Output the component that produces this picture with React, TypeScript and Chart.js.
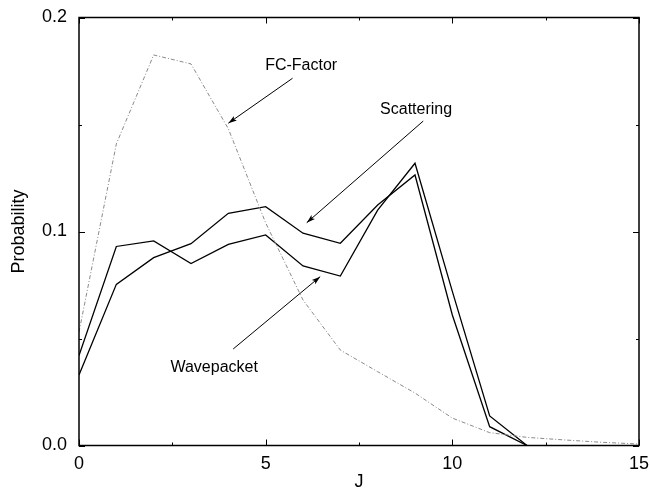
import React, { useEffect, useRef } from "react";
import { Chart, registerables } from "chart.js";

Chart.register(...registerables);

const jValues = [0, 1, 2, 3, 4, 5, 6, 7, 8, 9, 10, 11, 12, 13, 14, 15];
const wavepacket = [0.042, 0.093, 0.0956, 0.085, 0.094, 0.0984, 0.0839, 0.0792, 0.110, 0.1319, 0.072, 0.0138, 0.0];
const scattering = [0.033, 0.0753, 0.0878, 0.0943, 0.1085, 0.1116, 0.0992, 0.0945, 0.1124, 0.1264, 0.061, 0.0088, 0.0];
const fcFactor = [0.053, 0.1409, 0.1825, 0.1783, 0.148, 0.104, 0.068, 0.0446, 0.0345, 0.0245, 0.0128, 0.006, 0.0038, 0.0026, 0.0015, 0.0007];

const xMajorTicks = [0, 5, 10, 15];
const xMinorTicks = [2.5, 7.5, 12.5];
const yMajorTicks = [0, 0.1, 0.2];
const yMinorTicks = [0.05, 0.15];

// annotation labels and arrows, in data units (J, probability)
const annotations = [
  { text: "FC-Factor", at: [5.95, 0.1773], tail: [5.72, 0.1716], head: [4.0, 0.1506] },
  { text: "Scattering", at: [9.03, 0.1568], tail: [9.22, 0.1516], head: [6.1, 0.1041] },
  { text: "Wavepacket", at: [3.62, 0.0362], tail: [4.13, 0.0451], head: [6.46, 0.0789] },
];

const FONT = '"Liberation Sans", Arial, Helvetica, sans-serif';

const toPoints = (vals: number[]) => vals.map((v, i) => ({ x: jValues[i], y: v }));

const framePlugin = {
  id: "frameAndNotes",
  afterDatasetsDraw(chart: any) {
    const { ctx, chartArea, scales } = chart;
    const { left, right, top, bottom } = chartArea;
    const x = scales.x;
    const y = scales.y;
    ctx.save();
    ctx.strokeStyle = "#000";
    ctx.lineWidth = 1.5;
    ctx.strokeRect(left, top, right - left, bottom - top);
    ctx.lineWidth = 1;
    const xt = (vals: number[], len: number) => {
      for (const v of vals) {
        const px = Math.round(x.getPixelForValue(v)) + 0.5;
        ctx.beginPath();
        ctx.moveTo(px, bottom);
        ctx.lineTo(px, bottom - len);
        ctx.moveTo(px, top);
        ctx.lineTo(px, top + len);
        ctx.stroke();
      }
    };
    const yt = (vals: number[], len: number) => {
      for (const v of vals) {
        const py = Math.round(y.getPixelForValue(v)) + 0.5;
        ctx.beginPath();
        ctx.moveTo(left, py);
        ctx.lineTo(left + len, py);
        ctx.moveTo(right, py);
        ctx.lineTo(right - len, py);
        ctx.stroke();
      }
    };
    xt(xMajorTicks, 6);
    xt(xMinorTicks, 3);
    yt(yMajorTicks, 6);
    yt(yMinorTicks, 3);

    ctx.fillStyle = "#000";
    ctx.font = `16px ${FONT}`;
    ctx.textAlign = "center";
    ctx.textBaseline = "middle";
    for (const a of annotations) {
      ctx.fillText(a.text, x.getPixelForValue(a.at[0]), y.getPixelForValue(a.at[1]));
      const tx = x.getPixelForValue(a.tail[0]);
      const ty = y.getPixelForValue(a.tail[1]);
      const hx = x.getPixelForValue(a.head[0]);
      const hy = y.getPixelForValue(a.head[1]);
      ctx.beginPath();
      ctx.moveTo(tx, ty);
      ctx.lineTo(hx, hy);
      ctx.lineWidth = 1;
      ctx.stroke();
      const ang = Math.atan2(hy - ty, hx - tx);
      const L = 9;
      const w = 0.3;
      ctx.beginPath();
      ctx.moveTo(hx, hy);
      ctx.lineTo(hx - L * Math.cos(ang - w), hy - L * Math.sin(ang - w));
      ctx.lineTo(hx - L * 0.75 * Math.cos(ang), hy - L * 0.75 * Math.sin(ang));
      ctx.lineTo(hx - L * Math.cos(ang + w), hy - L * Math.sin(ang + w));
      ctx.closePath();
      ctx.fill();
    }
    ctx.restore();
  },
};

export default function App() {
  const ref = useRef<HTMLCanvasElement>(null);
  useEffect(() => {
    if (!ref.current) return;
    const chart = new Chart(ref.current, {
      type: "scatter",
      data: {
        datasets: [
          {
            label: "FC-Factor",
            data: toPoints(fcFactor),
            showLine: true,
            borderColor: "#8a8a8a",
            borderWidth: 1,
            borderDash: [4, 2, 1, 2],
            pointRadius: 0,
          },
          {
            label: "Wavepacket",
            data: toPoints(wavepacket),
            showLine: true,
            borderColor: "#000",
            borderWidth: 1.3,
            pointRadius: 0,
          },
          {
            label: "Scattering",
            data: toPoints(scattering),
            showLine: true,
            borderColor: "#000",
            borderWidth: 1.3,
            pointRadius: 0,
          },
        ],
      },
      options: {
        animation: false,
        responsive: false,
        layout: { padding: { left: 0, right: 11, top: 17.5, bottom: 0 } },
        plugins: { legend: { display: false }, tooltip: { enabled: false } },
        scales: {
          x: {
            type: "linear",
            min: 0,
            max: 15,
            border: { display: false },
            grid: { display: false, drawTicks: false },
            ticks: {
              stepSize: 5,
              autoSkip: false,
              maxRotation: 0,
              padding: 8,
              color: "#000",
              font: { family: FONT, size: 18 },
            },
            title: {
              display: true,
              text: "J",
              color: "#000",
              font: { family: FONT, size: 18 },
              padding: { top: 0, bottom: 0 },
            },
            afterFit: (s: any) => {
              s.height = 47.5;
              s.paddingLeft = 0;
              s.paddingRight = 0;
            },
          },
          y: {
            type: "linear",
            min: 0,
            max: 0.2,
            border: { display: false },
            grid: { display: false, drawTicks: false },
            ticks: {
              stepSize: 0.1,
              padding: 12,
              color: "#000",
              font: { family: FONT, size: 18 },
              callback: (v: any) => Number(v).toFixed(1),
            },
            title: {
              display: true,
              text: "Probability",
              color: "#000",
              font: { family: FONT, size: 18 },
              padding: { top: 8, bottom: 0 },
            },
            afterFit: (s: any) => {
              s.width = 79;
              s.paddingTop = 0;
              s.paddingBottom = 0;
            },
          },
        },
      },
      plugins: [framePlugin],
    });
    return () => chart.destroy();
  }, []);
  return (
    <div style={{ position: "fixed", left: 0, top: 0, width: 650, height: 493, background: "#fff" }}>
      <canvas ref={ref} width={650} height={493} style={{ display: "block" }} />
    </div>
  );
}
